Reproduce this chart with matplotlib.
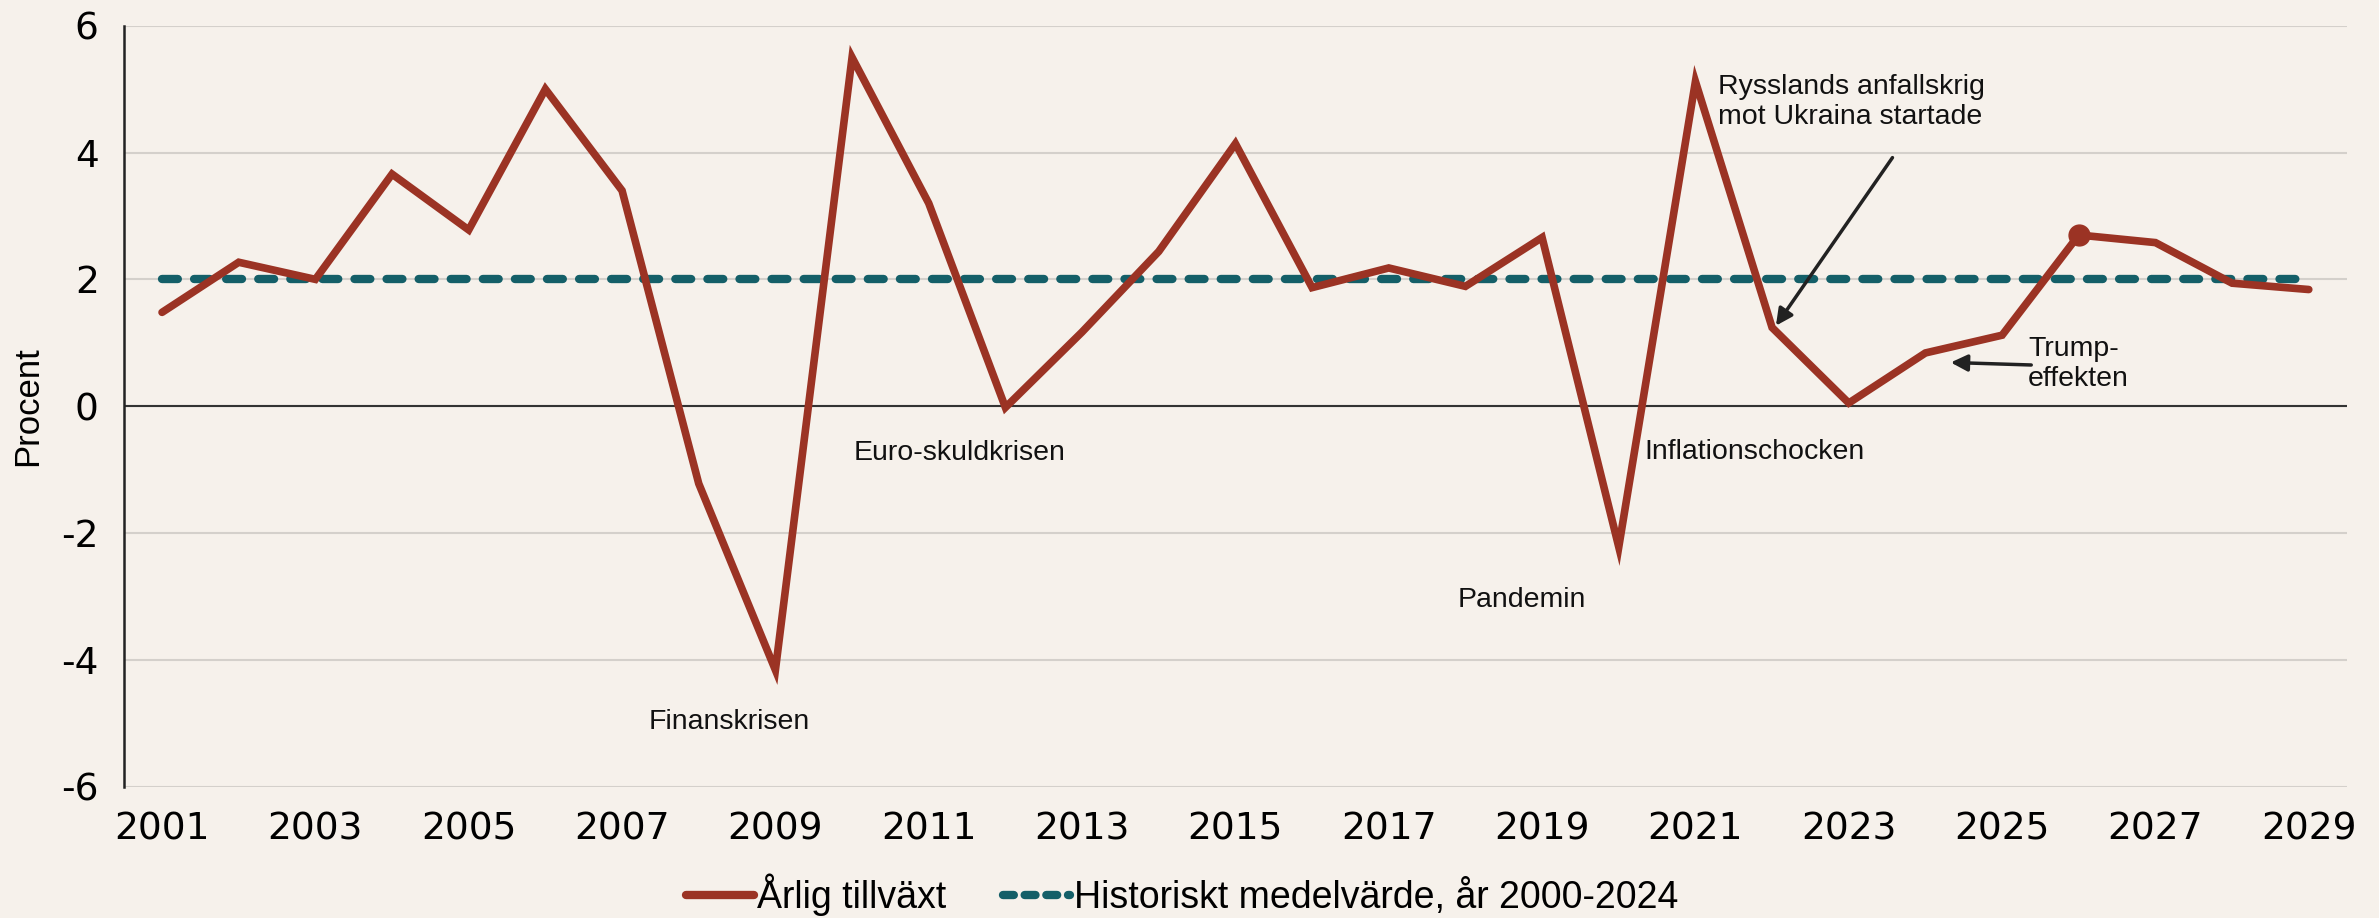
"""Årlig tillväxt vs historiskt medelvärde"""

import matplotlib.pyplot as plt
from matplotlib.lines import Line2D

years = list(range(2001, 2030))
growth = [1.48, 2.27, 2.0, 3.66, 2.78, 5.0, 3.4, -1.22, -4.16, 5.5,
          3.2, -0.02, 1.17, 2.44, 4.14, 1.87, 2.18, 1.89, 2.66, -2.22,
          5.12, 1.24, 0.05, 0.84, 1.12, 2.7, 2.58, 1.94, 1.84]
hist_mean = [2.0] * len(years)
marker_year = 2026
xtick_labels = [str(y) for y in range(2001, 2030, 2)]
yticks = [-6, -4, -2, 0, 2, 4, 6]

BG = "#F6F1EB"
RED = "#9B3324"
TEAL = "#145F68"
NARROW = ["Liberation Sans Narrow", "Liberation Sans", "DejaVu Sans"]
ARIAL = ["Liberation Sans", "DejaVu Sans"]


def main():
    fig = plt.figure(figsize=(23.79, 9.18), dpi=100, facecolor=BG)
    ax = fig.add_axes([0.052, 0.143, 0.9346, 0.829])
    ax.set_facecolor(BG)

    ax.plot(years, hist_mean, color=TEAL, lw=6, dashes=(1.9, 1.95),
            dash_capstyle="round", zorder=3)
    ax.plot(years, growth, color=RED, lw=5.5, solid_capstyle="round",
            solid_joinstyle="miter", zorder=4)
    i = years.index(marker_year)
    ax.plot([marker_year], [growth[i]], "o", color=RED, ms=15, zorder=5)

    ax.set_xlim(2000.5, 2029.5)
    ax.set_ylim(-6, 6)
    ax.set_yticks(yticks)
    ax.set_yticklabels([str(v) for v in yticks], fontsize=27, family="DejaVu Sans")
    ax.set_xticks(range(2001, 2030, 2))
    ax.set_xticklabels(xtick_labels, fontsize=27, family="DejaVu Sans")
    ax.tick_params(length=0, pad=18)
    ax.set_ylabel("Procent", fontsize=25, family=NARROW, labelpad=12)

    ax.grid(axis="y", color="#D4D0CB", lw=1.5)
    ax.axhline(0, color="#333333", lw=1.5, zorder=2)
    for s in ["top", "right", "bottom"]:
        ax.spines[s].set_visible(False)
    ax.spines["left"].set_color("#222222")
    ax.spines["left"].set_linewidth(1.8)

    tkw = dict(fontsize=20.5, family=ARIAL, color="#111111")
    ax.text(2008.4, -4.98, "Finanskrisen", ha="center", va="center", **tkw)
    ax.text(2011.4, -0.74, "Euro-skuldkrisen", ha="center", va="center", **tkw)
    ax.text(2018.74, -3.05, "Pandemin", ha="center", va="center", **tkw)
    ax.text(2020.33, -0.72, "Inflationschocken", ha="left", va="center", **tkw)
    ax.text(2021.3, 4.8, "Rysslands anfallskrig\nmot Ukraina startade",
            ha="left", va="center", linespacing=1.2, **tkw)
    ax.text(2025.34, 0.67, "Trump-\neffekten", ha="left", va="center",
            linespacing=1.2, **tkw)

    akw = dict(arrowstyle="-|>", color="#222222", lw=2.5, mutation_scale=25,
               shrinkA=0, shrinkB=0)
    ax.annotate("", xy=(2022.05, 1.27), xytext=(2023.57, 3.92), arrowprops=akw)
    ax.annotate("", xy=(2024.33, 0.69), xytext=(2025.38, 0.65), arrowprops=akw)

    handles = [
        Line2D([0], [0], color=RED, lw=6, solid_capstyle="round"),
        Line2D([0], [0], color=TEAL, lw=6, dashes=(1.3, 1.3),
               dash_capstyle="round"),
    ]
    fig.legend(handles, ["Årlig tillväxt", "Historiskt medelvärde, år 2000-2024"],
               loc="center", bbox_to_anchor=(0.497, 0.025), ncol=2, frameon=False,
               prop={"family": NARROW, "size": 27}, handlelength=1.8,
               handletextpad=0.1, columnspacing=1.5)

    fig.savefig("out.png", dpi=100, facecolor=BG)


if __name__ == "__main__":
    main()
